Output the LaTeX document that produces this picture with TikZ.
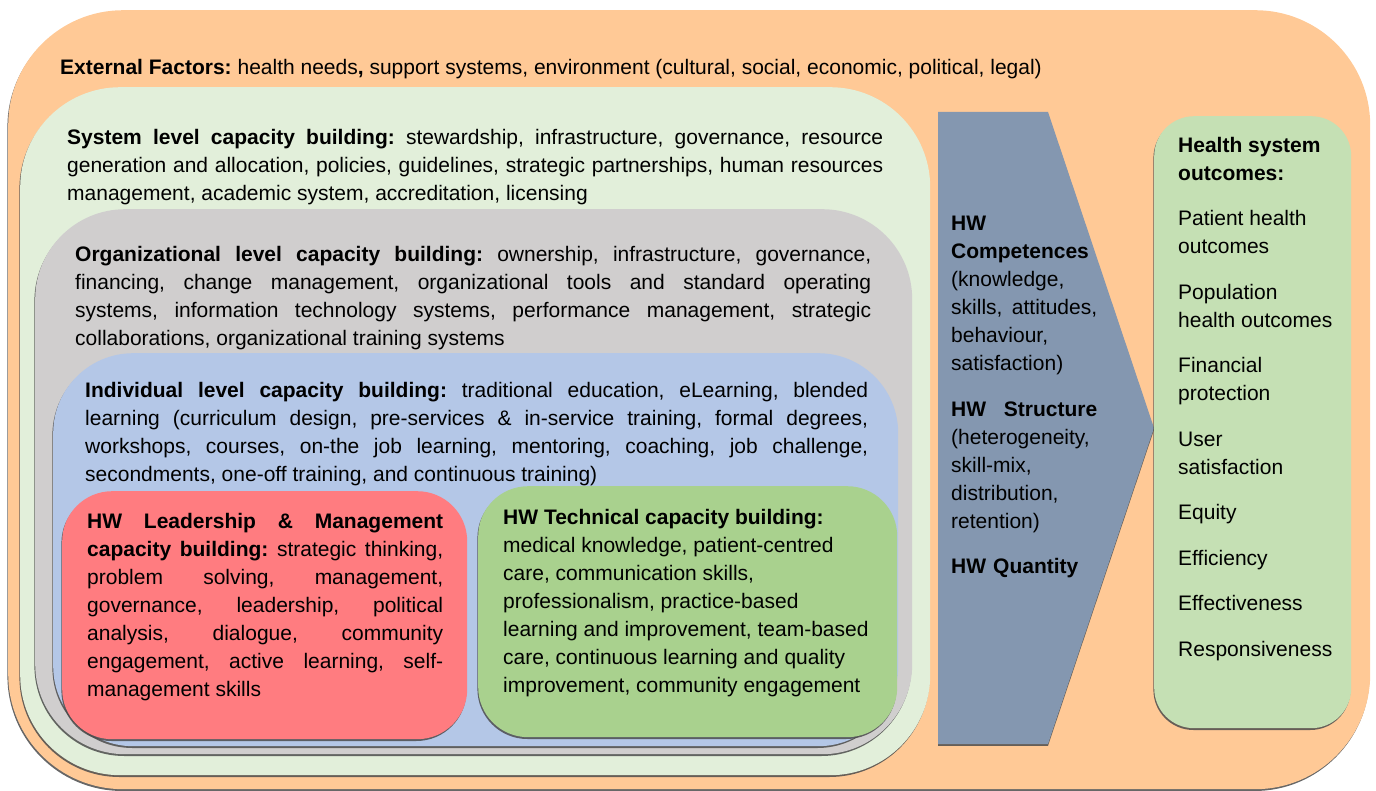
\documentclass[tikz,border=0pt]{standalone}
\usepackage{fontspec}
\setmainfont{Liberation Sans}
\frenchspacing
\usetikzlibrary{positioning}
\usetikzlibrary{shadows}

\definecolor{extcol}{HTML}{FFC996}
\definecolor{syscol}{HTML}{E2EFDA}
\definecolor{orgcol}{HTML}{D0CECE}
\definecolor{indcol}{HTML}{B4C7E7}
\definecolor{leadcol}{HTML}{FF7C80}
\definecolor{techcol}{HTML}{A9D18E}
\definecolor{arrcol}{HTML}{8497B0}
\definecolor{outcol}{HTML}{C5E0B4}

\tikzset{
  lvlbox/.style={rounded corners=#1, draw=none, anchor=north west, inner sep=0pt,
    drop shadow={shadow xshift=-0.8pt, shadow yshift=-1.8pt, fill=black!70, opacity=0.85}},
  txt/.style={inner sep=0pt, anchor=north west, font=\fontsize{21}{28}\selectfont},
}

\begin{document}
\begin{tikzpicture}[x=1pt, y=-1pt]
\useasboundingbox (0,0) rectangle (1376,791);

% external factors
\node[lvlbox=115pt, fill=extcol, minimum width=1362pt, minimum height=779pt] (ext) at (8,10) {};
\node[txt, below right=49pt and 52pt of ext.north west] (ext-t)
  {\textbf{External Factors:} health needs\textbf{,} support systems, environment (cultural, social, economic, political, legal)};

% system level
\node[lvlbox=100pt, fill=syscol, minimum width=910pt, minimum height=688pt] (sys) at (20,87) {};
\node[txt, text width=816pt, align=justify, below right=42pt and 47pt of sys.north west] (sys-t)
  {\textbf{System level capacity building:} stewardship, infrastructure, governance, resource\linebreak
   generation and allocation, policies, guidelines, strategic partnerships, human resources\linebreak
   management, academic system, accreditation, licensing};

% organizational level
\node[lvlbox=90pt, fill=orgcol, minimum width=877pt, minimum height=545pt] (org) at (35,209) {};
\node[txt, text width=796pt, align=justify, below right=37pt and 40pt of org.north west] (org-t)
  {\textbf{Organizational level capacity building:} ownership, infrastructure, governance,\linebreak
   financing, change management, organizational tools and standard operating\linebreak
   systems, information technology systems, performance management, strategic\linebreak
   collaborations, organizational training systems};

% individual level
\node[lvlbox=80pt, fill=indcol, minimum width=845pt, minimum height=393pt] (ind) at (53,353) {};
\node[txt, text width=783pt, align=justify, below right=29pt and 32pt of ind.north west] (ind-t)
  {\textbf{Individual level capacity building:} traditional education, eLearning, blended\linebreak
   learning (curriculum design, pre-services \& in-service training, formal degrees,\linebreak
   workshops, courses, on-the job learning, mentoring, coaching, job challenge,\linebreak
   secondments, one-off training, and continuous training)};

% leadership & management
\node[lvlbox=50pt, fill=leadcol, minimum width=405pt, minimum height=248pt] (lead) at (62,491) {};
\node[txt, text width=356pt, align=justify, below right=22pt and 25pt of lead.north west] (lead-t)
  {\textbf{HW Leadership \& Management}\linebreak
   \textbf{capacity building:} strategic thinking,\linebreak
   problem solving, management,\linebreak
   governance, leadership, political\linebreak
   analysis, dialogue, community\linebreak
   engagement, active learning, self-\linebreak
   management skills};

% technical
\node[lvlbox=50pt, fill=techcol, minimum width=419pt, minimum height=251pt] (tech) at (478,486) {};
\node[txt, align=left, below right=23pt and 25pt of tech.north west] (tech-t)
  {\textbf{HW Technical capacity building:}\\
   medical knowledge, patient-centred\\
   care, communication skills,\\
   professionalism, practice-based\\
   learning and improvement, team-based\\
   care, continuous learning and quality\\
   improvement, community engagement};

% HW arrow
\coordinate (arr-nw) at (938,112);
\coordinate (arr-ne) at (1048,112);
\coordinate (arr-tip) at (1154,428);
\coordinate (arr-se) at (1048,744);
\coordinate (arr-sw) at (938,744);
\path[fill=arrcol, drop shadow={shadow xshift=0pt, shadow yshift=-1.8pt, fill=black!70, opacity=0.85}]
  (arr-nw) -- (arr-ne) -- (arr-tip) -- (arr-se) -- (arr-sw) -- cycle;
\node[txt, text width=146pt, align=left, below right=104pt and 13pt of arr-nw] (arr-t)
  {\textbf{HW}\\
   \textbf{Competences}\\
   (knowledge,\\
   skills,\hfill attitudes,\\
   behaviour,\\
   satisfaction)\\[17.5pt]
   \textbf{HW}\hfill\textbf{Structure}\\
   (heterogeneity,\\
   skill-mix,\\
   distribution,\\
   retention)\\[17.5pt]
   \textbf{HW Quantity}};

% health system outcomes
\node[lvlbox=40pt, fill=outcol, minimum width=197pt, minimum height=612pt] (out) at (1154,116) {};
\node[txt, align=left, below right=21pt and 24pt of out.north west] (out-t)
  {\textbf{Health system}\\
   \textbf{outcomes:}\\[17.5pt]
   Patient health\\
   outcomes\\[17.5pt]
   Population\\
   health outcomes\\[17.5pt]
   Financial\\
   protection\\[17.5pt]
   User\\
   satisfaction\\[17.5pt]
   Equity\\[17.5pt]
   Efficiency\\[17.5pt]
   Effectiveness\\[17.5pt]
   Responsiveness};
\end{tikzpicture}
\end{document}
